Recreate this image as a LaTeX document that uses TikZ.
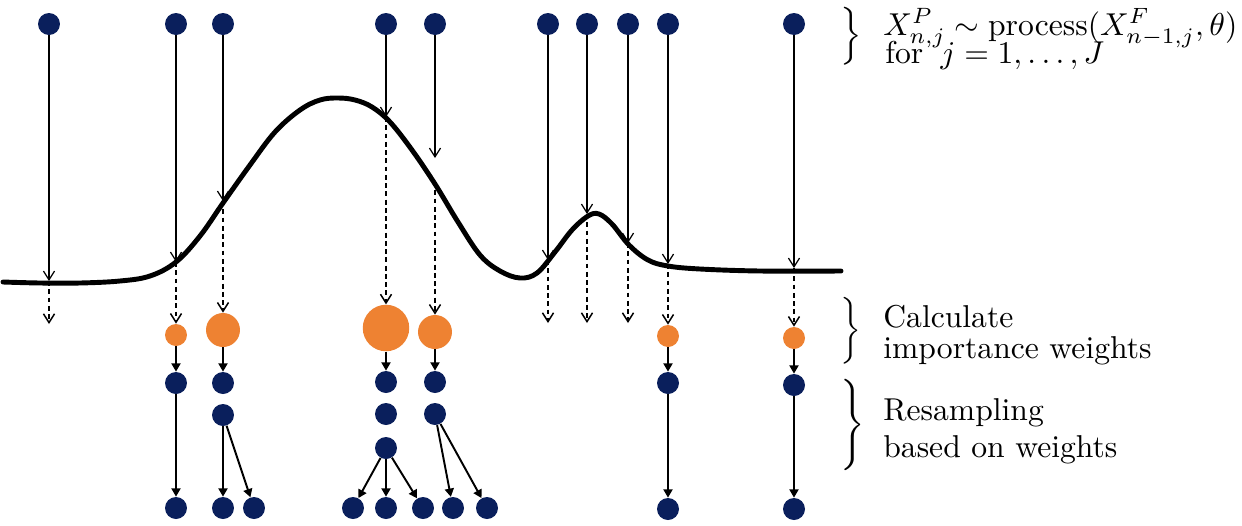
\documentclass[tikz,border=0pt]{standalone}
\usepackage{graphicx}
\usetikzlibrary{arrows.meta}
\definecolor{navy}{RGB}{10,31,92}
\definecolor{wtorange}{RGB}{238,130,50}
% annotation text: 10pt design size, enlarged
\newcommand{\anntext}[1]{\scalebox{1.8}{#1}}

\begin{document}
\begin{tikzpicture}[x=0.02cm,y=-0.02cm,
  particle/.style={circle,fill=navy,inner sep=0pt,minimum size=0.44cm},
  wnode/.style={circle,fill=wtorange,inner sep=0pt,minimum size=#1},
  propagate/.style={line width=0.7pt,-{Straight Barb[length=5pt,width=6.3pt]}},
  predict/.style={line width=0.85pt,dash pattern=on 2.8pt off 1.9pt,-{Straight Barb[length=5pt,width=6.3pt]}},
  resample/.style={line width=1.1pt,-{Triangle[length=4.7pt,width=5.1pt]}},
  density/.style={line width=2.8pt,line join=round,line cap=round},
  annot/.style={anchor=base west,inner sep=0pt,font=\fontsize{10}{12}\selectfont},
  bracenode/.style={inner sep=0pt}
]
\useasboundingbox (0,0) rectangle (1242,525);

% density curve
\draw[density] plot[smooth,tension=0.6] coordinates {
  (3,282) (40,283) (80,283) (120,281) (150,276) (176,262) (200,236)
  (223,203) (250,165) (275,132) (300,110) (320,100) (338,98) (355,100)
  (372,107) (390,122) (412,150) (435,184) (458,222) (480,255) (500,271)
  (520,278) (537,273) (555,252) (572,230) (588,216) (599,214) (612,224)
  (629,245) (648,260) (668,266) (700,269) (760,271) (841,271)};

% particles before propagation
\node[particle] (p1) at (49,24) {};
\node[particle] (p2) at (176,24) {};
\node[particle] (p3) at (223,24) {};
\node[particle] (p4) at (386,24) {};
\node[particle] (p5) at (435,24) {};
\node[particle] (p6) at (548,24) {};
\node[particle] (p7) at (587,24) {};
\node[particle] (p8) at (628,24) {};
\node[particle] (p9) at (668,24) {};
\node[particle] (p10) at (794,24) {};

% where the particles meet the density
\coordinate (h1) at (49,281);
\coordinate (h2) at (176,262);
\coordinate (h3) at (223,201);
\coordinate (h4) at (386,117);
\coordinate (h5a) at (435,158);
\coordinate (h5) at (435,182);
\coordinate (h6) at (548,260);
\coordinate (h7) at (587,214);
\coordinate (h8) at (628,243);
\coordinate (h9) at (668,264);
\coordinate (h10) at (794,268);

% ends of the zero-weight drops
\coordinate (e1) at (49,324);
\coordinate (e6) at (548,323);
\coordinate (e7) at (587,323);
\coordinate (e8) at (628,323);

% importance weights
\node[wnode=0.44cm] (w2) at (176,335) {};
\node[wnode=0.68cm] (w3) at (223,330) {};
\node[wnode=0.93cm] (w4) at (386,328) {};
\node[wnode=0.68cm] (w5) at (435,332) {};
\node[wnode=0.44cm] (w9) at (668,336) {};
\node[wnode=0.44cm] (w10) at (794,338) {};

% resampled copies
\node[particle] (r2) at (176,383) {};
\node[particle] (r3) at (223,383) {};
\node[particle] (r3b) at (223,415) {};
\node[particle] (r4) at (386,382) {};
\node[particle] (r4b) at (386,414) {};
\node[particle] (r4c) at (386,448) {};
\node[particle] (r5) at (435,382) {};
\node[particle] (r5b) at (435,414) {};
\node[particle] (r9) at (668,383) {};
\node[particle] (r10) at (794,385) {};

% next generation
\node[particle] (f1) at (176,508) {};
\node[particle] (f2) at (223,508) {};
\node[particle] (f3) at (254,508) {};
\node[particle] (f4) at (353,508) {};
\node[particle] (f5) at (386,508) {};
\node[particle] (f6) at (423,508) {};
\node[particle] (f7) at (453,508) {};
\node[particle] (f8) at (487,508) {};
\node[particle] (f9) at (668,509) {};
\node[particle] (f10) at (794,509) {};

% propagation
\draw[propagate] (p1) -- (h1);
\draw[propagate] (p2) -- (h2);
\draw[propagate] (p3) -- (h3);
\draw[propagate] (p4) -- (h4);
\draw[propagate] (p5) -- (h5a);
\draw[propagate] (p6) -- (h6);
\draw[propagate] (p7) -- (h7);
\draw[propagate] (p8) -- (h8);
\draw[propagate] (p9) -- (h9);
\draw[propagate] (p10) -- (h10);

% weighting
\draw[predict] (h1) -- (e1);
\draw[predict] (h2) -- (w2);
\draw[predict] (h3) -- (w3);
\draw[predict] (h4) -- (w4);
\draw[predict] (h5) -- (w5);
\draw[predict] (h6) -- (e6);
\draw[predict] (h7) -- (e7);
\draw[predict] (h8) -- (e8);
\draw[predict] (h9) -- (w9);
\draw[predict] (h10) -- (w10);

% resampling
\draw[resample] (w2) -- (r2);
\draw[resample] (r2) -- (f1);
\draw[resample] (w3) -- (r3);
\draw[resample] (r3b) -- (f2);
\draw[resample] (r3b) -- (f3);
\draw[resample] (w4) -- (r4);
\draw[resample] (r4c) -- (f4);
\draw[resample] (r4c) -- (f5);
\draw[resample] (r4c) -- (f6);
\draw[resample] (w5) -- (r5);
\draw[resample] (r5b) -- (f7);
\draw[resample] (r5b) -- (f8);
\draw[resample] (w9) -- (r9);
\draw[resample] (r9) -- (f9);
\draw[resample] (w10) -- (r10);
\draw[resample] (r10) -- (f10);

% braces
\node[bracenode] (b1) at (851,36) {\nulldelimiterspace=0pt\resizebox*{!}{33pt}{$\Big\}$}};
\node[bracenode] (b2) at (851,331) {\nulldelimiterspace=0pt\resizebox*{!}{38pt}{$\bigg\}$}};
\node[bracenode] (b3) at (853,425) {\nulldelimiterspace=0pt\resizebox*{!}{52pt}{$\Bigg\}$}};

% annotations
\node[annot] (t1) at (883,35) {\anntext{$X^P_{n,j} \sim \mathrm{process}(X^F_{n-1,j},\theta)$}};
\node[annot] (t2) at (885,63) {\anntext{for\hspace{0.55em}$j=1,\ldots,J$}};
\node[annot] (c1) at (883,327) {\anntext{Calculate}};
\node[annot] (c2) at (883,358) {\anntext{importance weights}};
\node[annot] (s1) at (883,420) {\anntext{Resampling}};
\node[annot] (s2) at (883,457) {\anntext{based on weights}};
\end{tikzpicture}
\end{document}
